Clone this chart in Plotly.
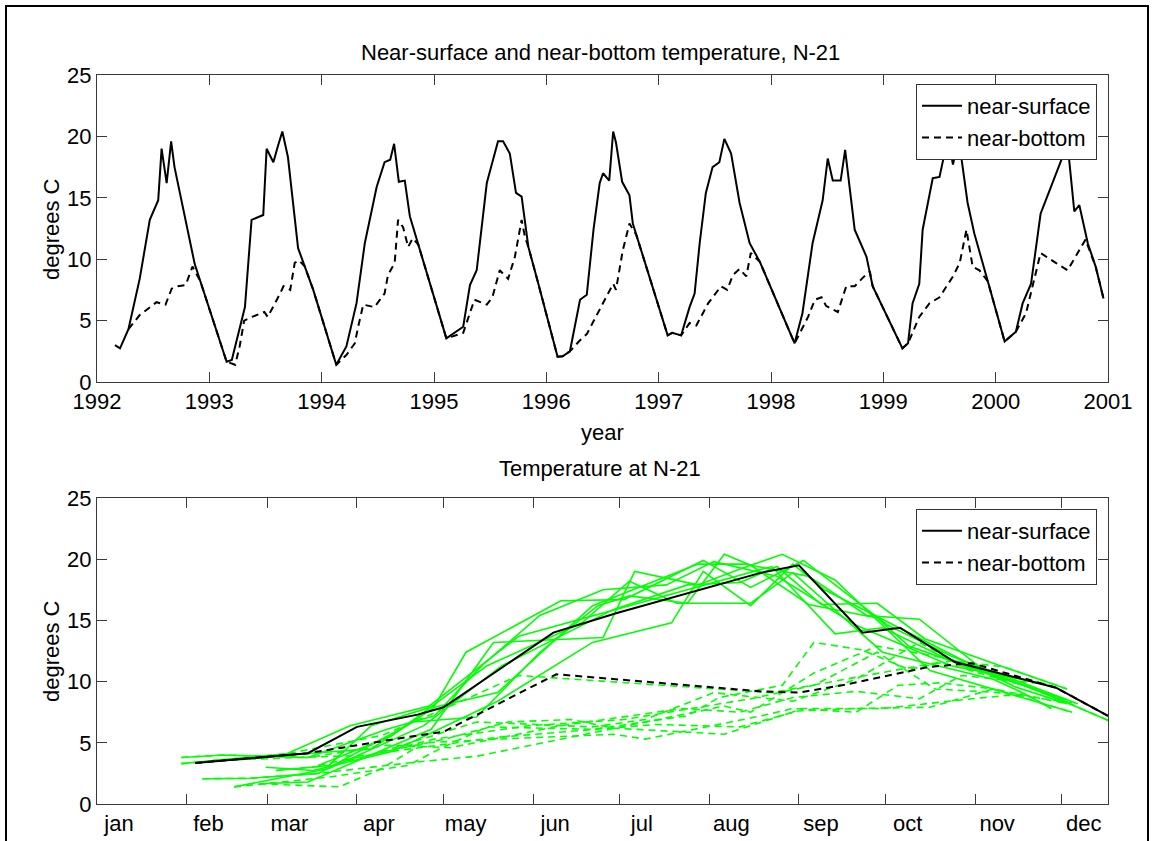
import math
import plotly.graph_objects as go

# ---------------- data ----------------
year_ticks = list(range(1992, 2002))

t_surf = [1992.16, 1992.205, 1992.28, 1992.38, 1992.47, 1992.545, 1992.575, 1992.62, 1992.66, 1992.69, 1992.87, 1992.92,
          1993.154, 1993.2, 1993.317, 1993.376, 1993.48, 1993.51, 1993.57, 1993.61, 1993.65, 1993.70, 1993.79, 1993.85, 1993.925,
          1994.13, 1994.22, 1994.31, 1994.384, 1994.49, 1994.56, 1994.61, 1994.645, 1994.687, 1994.74, 1994.785, 1994.84, 1994.86, 1994.92,
          1995.11, 1995.26, 1995.32, 1995.38, 1995.47, 1995.57, 1995.615, 1995.675, 1995.73, 1995.78, 1995.84, 1995.92,
          1996.10, 1996.145, 1996.21, 1996.30, 1996.36, 1996.42, 1996.475, 1996.505, 1996.56, 1996.595, 1996.62, 1996.675, 1996.74, 1996.77, 1996.80, 1996.92,
          1997.08, 1997.12, 1997.20, 1997.275, 1997.32, 1997.365, 1997.42, 1997.48, 1997.54, 1997.585, 1997.645, 1997.72, 1997.81, 1997.9,
          1998.21, 1998.28, 1998.37, 1998.46, 1998.505, 1998.55, 1998.62, 1998.66, 1998.745, 1998.85, 1998.88, 1998.905,
          1999.17, 1999.22, 1999.26, 1999.32, 1999.35, 1999.44, 1999.50, 1999.575, 1999.62, 1999.67, 1999.75, 1999.81, 1999.93,
          2000.08, 2000.18, 2000.24, 2000.315, 2000.40, 2000.64, 2000.70, 2000.745, 2000.82, 2000.89, 2000.96]
surf = [3.0, 2.74, 4.3, 8.4, 13.2, 14.8, 19.0, 16.2, 19.6, 17.5, 9.6, 8.2,
        1.65, 1.8, 6.1, 13.2, 13.6, 19.0, 17.9, 19.2, 20.4, 18.3, 10.9, 9.4, 7.5,
        1.4, 2.9, 6.4, 11.3, 15.9, 17.9, 18.1, 19.4, 16.3, 16.4, 13.5, 11.8, 11.2, 9.4,
        3.55, 4.5, 7.9, 9.1, 16.2, 19.6, 19.6, 18.6, 15.4, 15.1, 11.0, 8.3,
        2.06, 2.1, 2.5, 6.7, 7.1, 12.4, 16.2, 17.0, 16.4, 20.4, 19.5, 16.3, 15.2, 12.9, 12.0, 8.5,
        3.8, 4.0, 3.8, 6.1, 7.2, 11.3, 15.4, 17.5, 17.9, 19.8, 18.6, 14.6, 11.3, 9.8,
        3.15, 5.6, 11.3, 14.8, 18.2, 16.4, 16.4, 18.9, 12.4, 10.2, 9.0, 7.8,
        2.74, 3.15, 6.4, 8.0, 12.4, 16.6, 16.7, 19.9, 17.7, 19.9, 14.6, 12.1, 8.2,
        3.3, 4.1, 6.4, 8.0, 13.7, 19.4, 13.9, 14.4, 11.3, 9.4, 6.8]

t_bot = [1992.28, 1992.38, 1992.53, 1992.61, 1992.665, 1992.72, 1992.79, 1992.85, 1992.92,
         1993.154, 1993.23, 1993.27, 1993.31, 1993.38, 1993.49, 1993.52, 1993.63, 1993.66, 1993.72, 1993.76, 1993.80, 1993.85, 1993.925,
         1994.13, 1994.22, 1994.295, 1994.325, 1994.37, 1994.47, 1994.56, 1994.59, 1994.65, 1994.68, 1994.725, 1994.77, 1994.81, 1994.86, 1994.92,
         1995.11, 1995.26, 1995.36, 1995.47, 1995.52, 1995.585, 1995.66, 1995.72, 1995.78, 1995.81, 1995.84, 1995.92,
         1996.10, 1996.145, 1996.21, 1996.30, 1996.36, 1996.475, 1996.595, 1996.62, 1996.68, 1996.74, 1996.80, 1996.92,
         1997.08, 1997.12, 1997.20, 1997.275, 1997.335, 1997.44, 1997.555, 1997.61, 1997.66, 1997.72, 1997.78, 1997.82, 1997.9,
         1998.21, 1998.33, 1998.39, 1998.45, 1998.49, 1998.535, 1998.595, 1998.67, 1998.745, 1998.83, 1998.88, 1998.905,
         1999.17, 1999.22, 1999.32, 1999.41, 1999.50, 1999.62, 1999.68, 1999.74, 1999.795, 1999.855, 1999.93,
         2000.08, 2000.18, 2000.27, 2000.33, 2000.40, 2000.535, 2000.64, 2000.80, 2000.89, 2000.96]
bot = [4.3, 5.45, 6.5, 6.3, 7.6, 7.8, 7.9, 9.4, 8.2,
       1.65, 1.4, 2.9, 5.0, 5.3, 5.7, 5.3, 7.2, 7.8, 7.5, 9.7, 9.9, 9.4, 7.5,
       1.4, 2.2, 3.15, 4.5, 6.3, 6.1, 7.2, 8.7, 9.7, 13.2, 12.6, 11.0, 11.7, 11.2, 9.4,
       3.55, 4.0, 6.7, 6.3, 6.9, 9.1, 8.4, 10.2, 13.2, 11.8, 11.0, 8.3,
       2.06, 2.1, 2.5, 3.4, 3.9, 5.9, 8.0, 7.5, 10.7, 12.9, 12.0, 8.5,
       3.8, 4.0, 3.8, 4.8, 4.6, 6.4, 7.8, 7.5, 8.7, 9.2, 8.6, 10.5, 9.8,
       3.15, 5.3, 6.7, 6.9, 6.2, 6.0, 5.7, 7.8, 7.8, 8.6, 9.0, 7.8,
       2.74, 3.15, 5.3, 6.4, 6.9, 8.6, 9.7, 12.4, 9.4, 9.1, 8.2,
       3.3, 4.1, 5.6, 7.8, 10.5, 9.7, 9.1, 11.6, 9.4, 6.8]

# climatological curves (black) in the lower panel, day of year
clim_surf_day = [35, 74, 91, 112, 121, 159, 181, 231, 244, 266, 279, 298, 333, 351]
clim_surf = [3.35, 4.15, 6.3, 7.3, 7.9, 14.0, 15.6, 18.9, 19.5, 14.0, 14.4, 11.6, 9.5, 7.2]
clim_bot_day = [35, 74, 112, 121, 160, 231, 244, 259, 289, 304, 333, 351]
clim_bot = [3.35, 4.15, 5.6, 5.9, 10.6, 9.2, 9.1, 9.7, 11.2, 11.5, 9.5, 7.2]

month_labels = ["jan", "feb", "mar", "apr", "may", "jun", "jul", "aug", "sep", "oct", "nov", "dec"]
month_start_day = [1, 32, 60, 91, 121, 152, 182, 213, 244, 274, 305, 335]
y_ticks = [0, 5, 10, 15, 20, 25]

# ---------------- layout helpers ----------------
W, H = 1154, 841
FONT = "Liberation Sans, Arial, Helvetica, sans-serif"
FS = 22
AX = "#3a3a3a"
GREEN = "#00ff00"


def px_x(p):
    return p / W


def px_y(p):
    return 1 - p / H


def split_by_year(t, v):
    groups = {}
    for ti, vi in zip(t, v):
        yr = int(math.floor(ti))
        groups.setdefault(yr, ([], []))
        groups[yr][0].append((ti - yr) * 365 + 1)
        groups[yr][1].append(vi)
    return groups


fig = go.Figure()

# ---- upper panel ----
fig.add_trace(go.Scatter(x=t_surf, y=surf, mode="lines", name="near-surface",
                         line=dict(color="black", width=2), xaxis="x", yaxis="y", legend="legend"))
fig.add_trace(go.Scatter(x=t_bot, y=bot, mode="lines", name="near-bottom",
                         line=dict(color="black", width=2, dash="7px,5px"), xaxis="x", yaxis="y", legend="legend"))

# ---- lower panel: individual years in green ----
gs = split_by_year(t_surf, surf)
gb = split_by_year(t_bot, bot)
for yr in sorted(gs):
    d, v = gs[yr]
    fig.add_trace(go.Scatter(x=d, y=v, mode="lines", showlegend=False,
                             line=dict(color=GREEN, width=1.6), xaxis="x2", yaxis="y2"))
for yr in sorted(gb):
    d, v = gb[yr]
    fig.add_trace(go.Scatter(x=d, y=v, mode="lines", showlegend=False,
                             line=dict(color=GREEN, width=1.6, dash="7px,5px"), xaxis="x2", yaxis="y2"))

fig.add_trace(go.Scatter(x=clim_surf_day, y=clim_surf, mode="lines", name="near-surface",
                         line=dict(color="black", width=2), xaxis="x2", yaxis="y2", legend="legend2"))
fig.add_trace(go.Scatter(x=clim_bot_day, y=clim_bot, mode="lines", name="near-bottom",
                         line=dict(color="black", width=2, dash="7px,5px"), xaxis="x2", yaxis="y2", legend="legend2"))

axis_common = dict(showline=True, linecolor=AX, linewidth=1, mirror="ticks", ticks="inside",
                   ticklen=10, tickcolor=AX, tickwidth=1, showgrid=False, zeroline=False,
                   automargin=False,
                   tickfont=dict(family=FONT, size=FS, color="black"))

xdom = [px_x(97), px_x(1108)]
legend_common = dict(xanchor="right", yanchor="top", bgcolor="white", bordercolor="#333333",
                     borderwidth=1, font=dict(family=FONT, size=FS, color="black"),
                     tracegroupgap=0, itemwidth=40)
fig.update_layout(
    template="none",
    width=W, height=H,
    margin=dict(l=0, r=0, t=0, b=0, pad=0, autoexpand=False),
    paper_bgcolor="white", plot_bgcolor="white",
    font=dict(family=FONT, size=FS, color="black"),
    xaxis=dict(domain=xdom, range=[1992, 2001], tickvals=year_ticks,
               ticktext=[str(y) for y in year_ticks], anchor="y", **axis_common),
    yaxis=dict(domain=[px_y(382), px_y(75)], range=[0, 25], tickvals=y_ticks, anchor="x", **axis_common),
    xaxis2=dict(domain=xdom, range=[1, 351], tickvals=month_start_day, ticktext=month_labels,
                ticklabelshift=22, anchor="y2", **axis_common),
    yaxis2=dict(domain=[px_y(804), px_y(498)], range=[0, 25], tickvals=y_ticks, anchor="x2", **axis_common),
    legend=dict(x=px_x(1097), y=px_y(84), **legend_common),
    legend2=dict(x=px_x(1097), y=px_y(509), **legend_common),
    showlegend=True,
)

ann = [
    dict(text="Near-surface and near-bottom temperature, N-21", x=px_x(600), y=px_y(52)),
    dict(text="year", x=px_x(602), y=px_y(432)),
    dict(text="Temperature at N-21", x=px_x(600), y=px_y(468)),
    dict(text="degrees C", x=px_x(51), y=px_y(229), textangle=-90),
    dict(text="degrees C", x=px_x(51), y=px_y(651), textangle=-90),
]
for a in ann:
    fig.add_annotation(xref="paper", yref="paper", xanchor="center", yanchor="middle",
                       showarrow=False, font=dict(family=FONT, size=FS, color="black"), **a)

# figure frame
fig.add_shape(type="rect", xref="paper", yref="paper", x0=px_x(6), x1=px_x(1148),
              y0=px_y(850), y1=px_y(6), line=dict(color="black", width=2), layer="below")

fig.write_html("out.html")
